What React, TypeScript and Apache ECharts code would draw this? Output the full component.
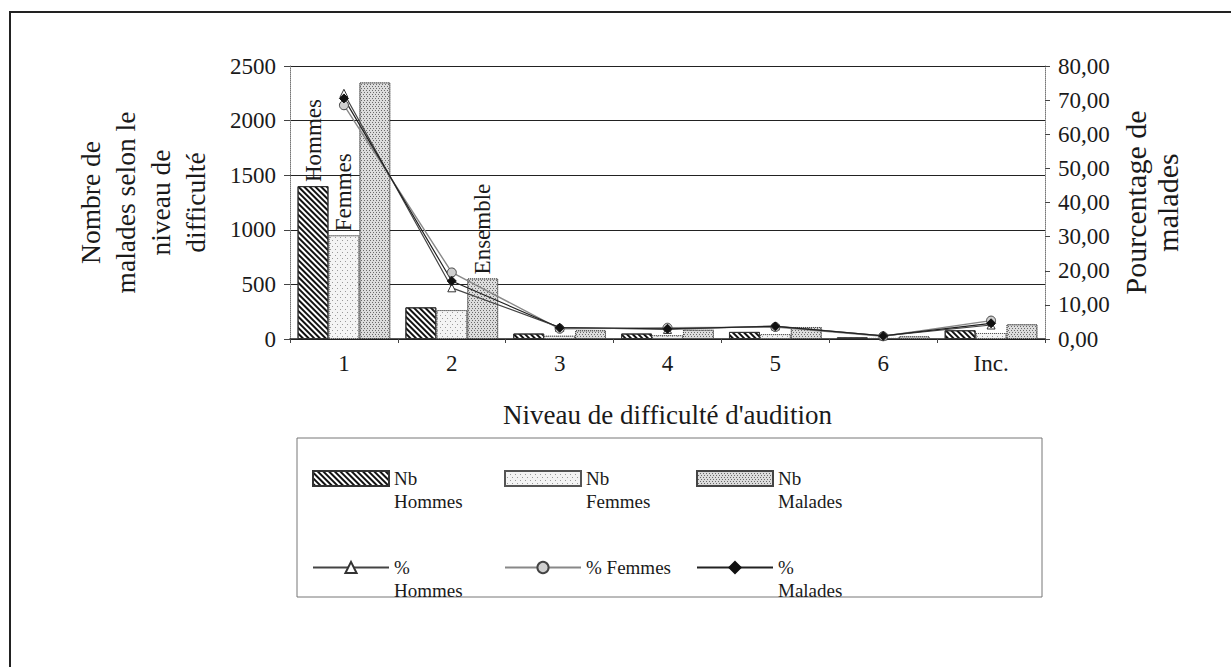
import React, { useEffect, useRef } from "react";
import * as echarts from "echarts";

const categories = ["1", "2", "3", "4", "5", "6", "Inc."];
const nbHommes = [1400, 290, 50, 50, 65, 15, 80];
const nbFemmes = [950, 265, 30, 35, 45, 10, 55];
const nbMalades = [2350, 555, 80, 85, 110, 25, 135];
const pctHommes = [72, 15, 3.4, 2.8, 3.8, 0.9, 4.1];
const pctFemmes = [68.5, 19.5, 3.0, 3.3, 3.5, 0.8, 5.4];
const pctMalades = [70.5, 17, 3.3, 3.0, 3.7, 0.9, 4.6];
const noteHommes = ["Hommes", "", "", "", "", "", ""];
const noteFemmes = ["Femmes", "", "", "", "", "", ""];
const noteMalades = ["", "Ensemble", "", "", "", "", ""];
const leftAxis = { min: 0, max: 2500, interval: 500 };
const rightAxis = { min: 0, max: 80, interval: 10 };
const barNames = ["Nb Hommes", "Nb Femmes", "Nb Malades"];
const lineNames = ["% Hommes", "% Femmes", "% Malades"];
const legendLabels: Record<string, string> = {
  "Nb Hommes": "\nNb\nHommes",
  "Nb Femmes": "\nNb\nFemmes",
  "Nb Malades": "\nNb\nMalades",
  "% Hommes": "\n%\nHommes",
  "% Femmes": "\n% Femmes\n",
  "% Malades": "\n%\nMalades",
};

const FONT = "'Liberation Serif', 'Times New Roman', serif";
const INK = "#1a1a1a";

function withNotes(values: number[], notes: string[]) {
  return values.map((v, i) =>
    notes[i]
      ? {
          value: v,
          label: {
            show: true,
            formatter: notes[i],
            position: "top",
            rotate: 90,
            align: "left",
            verticalAlign: "middle",
            distance: 4,
            fontSize: 23,
            fontFamily: FONT,
            color: INK,
          },
        }
      : v
  );
}

export default function App() {
  const ref = useRef<HTMLDivElement>(null);
  useEffect(() => {
    document.body.style.margin = "0";
    const chart = echarts.init(ref.current!, null, { renderer: "svg" });
    const legendCommon = {
      left: 312,
      padding: 0,
      itemGap: 10,
      formatter: (n: string) => legendLabels[n] || n,
      textStyle: {
        fontSize: 19,
        fontFamily: FONT,
        color: INK,
        lineHeight: 23,
        width: 100,
      },
    };
    chart.setOption({
      animation: false,
      backgroundColor: "#ffffff",
      textStyle: { fontFamily: FONT },
      grid: { left: 290, right: 186, top: 66, bottom: 328 },
      legend: [
        { ...legendCommon, data: barNames, top: 444, itemWidth: 76, itemHeight: 15, icon: "rect" },
        { ...legendCommon, data: lineNames, top: 533, itemWidth: 76, itemHeight: 14 },
      ],
      graphic: [
        {
          type: "rect",
          shape: { x: 10, y: 12, width: 1240, height: 680 },
          style: { fill: "none", stroke: "#222", lineWidth: 2 },
          silent: true,
        },
        {
          type: "rect",
          shape: { x: 297, y: 438, width: 745, height: 159 },
          style: { fill: "none", stroke: "#777", lineWidth: 1 },
          silent: true,
        },
      ],
      xAxis: {
        type: "category",
        data: categories,
        name: "Niveau de difficulté d'audition",
        nameLocation: "middle",
        nameGap: 62,
        nameTextStyle: { fontSize: 27, fontFamily: FONT, color: INK },
        axisLine: { show: true, lineStyle: { color: "#222", width: 1.5 } },
        axisTick: { show: true, length: 4, lineStyle: { color: "#444" } },
        axisLabel: { fontSize: 23, fontFamily: FONT, color: INK, margin: 13 },
      },
      yAxis: [
        {
          type: "value",
          min: leftAxis.min,
          max: leftAxis.max,
          interval: leftAxis.interval,
          name: "Nombre de\nmalades selon le\nniveau de\ndifficulté",
          nameLocation: "middle",
          nameRotate: 90,
          nameGap: 77,
          nameMoveOverlap: false,
          nameTextStyle: { fontSize: 27.5, lineHeight: 35, fontFamily: FONT, color: INK },
          axisLine: { show: true, lineStyle: { color: "#777", type: "dotted" } },
          axisTick: { show: true, length: 6, lineStyle: { color: "#444" } },
          axisLabel: {
            fontSize: 23,
            fontFamily: FONT,
            color: INK,
            margin: 14,
            formatter: (v: number) => String(v),
          },
          splitLine: { show: true, lineStyle: { color: "#222", width: 1.2 } },
        },
        {
          type: "value",
          position: "right",
          min: rightAxis.min,
          max: rightAxis.max,
          interval: rightAxis.interval,
          name: "Pourcentage de\nmalades",
          nameLocation: "middle",
          nameRotate: 90,
          nameGap: 74,
          nameMoveOverlap: false,
          nameTextStyle: { fontSize: 30, lineHeight: 32, fontFamily: FONT, color: INK },
          axisLine: { show: true, lineStyle: { color: "#777", type: "dotted" } },
          axisTick: { show: true, length: 5, lineStyle: { color: "#444" } },
          axisLabel: {
            fontSize: 23,
            fontFamily: FONT,
            color: INK,
            margin: 13,
            formatter: (v: number) => v.toFixed(2).replace(".", ","),
          },
          splitLine: { show: false },
        },
      ],
      series: [
        {
          name: "Nb Hommes",
          type: "bar",
          data: withNotes(nbHommes, noteHommes),
          barGap: "0%",
          barCategoryGap: "14%",
          itemStyle: {
            color: "#ffffff",
            borderColor: "#333",
            borderWidth: 1,
            decal: {
              symbol: "rect",
              symbolSize: 1,
              color: "#111",
              dashArrayX: [1, 0],
              dashArrayY: [2, 2],
              rotation: Math.PI / 4,
            },
          },
        },
        {
          name: "Nb Femmes",
          type: "bar",
          data: withNotes(nbFemmes, noteFemmes),
          itemStyle: {
            color: "#f4f4f4",
            borderColor: "#555",
            borderWidth: 1,
            borderType: "dotted",
            decal: {
              symbol: "rect",
              symbolSize: 1,
              color: "#9a9a9a",
              dashArrayX: [[1, 4], [0, 2, 1, 2]],
              dashArrayY: [1, 2],
              rotation: 0,
            },
          },
        },
        {
          name: "Nb Malades",
          type: "bar",
          data: withNotes(nbMalades, noteMalades),
          itemStyle: {
            color: "#dcdcdc",
            borderColor: "#444",
            borderWidth: 1,
            borderType: "dotted",
            decal: {
              symbol: "rect",
              symbolSize: 1,
              color: "#6a6a6a",
              dashArrayX: [[1, 2], [0, 1, 1, 1]],
              dashArrayY: [1, 1],
              rotation: 0,
            },
          },
        },
        {
          name: "% Hommes",
          type: "line",
          yAxisIndex: 1,
          data: pctHommes,
          symbol: "triangle",
          symbolSize: 8,
          itemStyle: { color: "#ffffff", borderColor: "#333", borderWidth: 1 },
          lineStyle: { color: "#444", width: 1.2 },
        },
        {
          name: "% Femmes",
          type: "line",
          yAxisIndex: 1,
          data: pctFemmes,
          symbol: "circle",
          symbolSize: 9,
          itemStyle: { color: "#cfcfcf", borderColor: "#444", borderWidth: 1 },
          lineStyle: { color: "#888", width: 1.4 },
        },
        {
          name: "% Malades",
          type: "line",
          yAxisIndex: 1,
          data: pctMalades,
          symbol: "diamond",
          symbolSize: 9,
          itemStyle: { color: "#111", borderColor: "#111", borderWidth: 1 },
          lineStyle: { color: "#222", width: 1.2 },
        },
      ],
    });
    return () => chart.dispose();
  }, []);
  return <div ref={ref} style={{ width: 1231, height: 667 }} />;
}
